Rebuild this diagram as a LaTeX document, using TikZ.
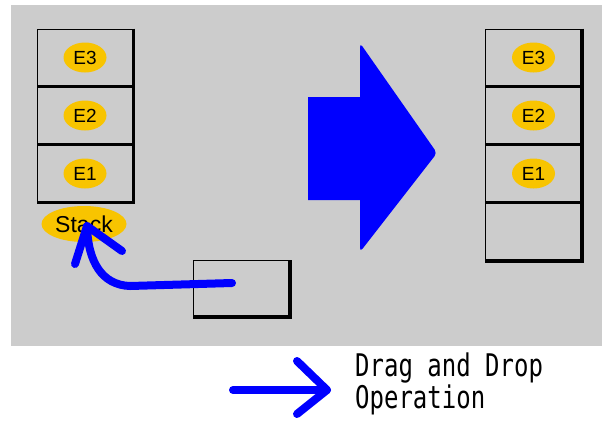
\documentclass[tikz,border=0pt]{standalone}
\usepackage{fontspec}
\setmainfont{Liberation Sans}
\newfontfamily\pixmono{DejaVu Sans Mono}
\definecolor{bggray}{HTML}{CCCCCC}
\definecolor{tagyellow}{HTML}{F8C400}
\definecolor{dragblue}{HTML}{0000FF}
\begin{document}
\begin{tikzpicture}[x=1pt,y=-1pt,
  slot/.style={draw=black,line width=1pt,minimum width=96pt,minimum height=57pt,inner sep=0pt},
  tag/.style={fill=tagyellow,ellipse,minimum width=43pt,minimum height=30pt,inner sep=0pt,font=\fontsize{19}{19}\selectfont},
  stroke/.style={draw=dragblue,line width=8pt,line cap=round,line join=round}]
\usetikzlibrary{shapes.geometric}
\useasboundingbox (0,0) rectangle (604,421);
\fill[white] (0,0) rectangle (604,421);
\fill[bggray] (11,5) rectangle (602,346);
% left stack
\foreach \n/\y in {3/57.5,2/115.5,1/173.5}{
  \node[slot] (L\n) at (85,\y) {};
  \draw[line width=3.5pt] (L\n.north east) -- (L\n.south east) -- (L\n.south west);
  \node[tag] (LE\n) at (L\n.center) {E\n};
}
\node[tag,minimum width=85pt,minimum height=36pt,font=\fontsize{23}{23}\selectfont] (stack) at (84,224) {Stack};
% small dragged rect
\node[draw=black,line width=1pt,minimum width=96pt,minimum height=56pt,inner sep=0pt] (drag) at (241.5,288.5) {};
\draw[line width=3.5pt] (drag.north east) -- (drag.south east) -- (drag.south west);
% curved drag arrow
\coordinate (s) at (232,283);
\coordinate (tip) at (87,226);
\draw[stroke] (s) -- (130,286) .. controls (102,285) and (88,262) .. (tip);
\draw[stroke] (75,264) -- (tip) -- (122,251);
% big arrow
\fill[dragblue] (308,97) -- (360,97) [rounded corners=4pt] -- (360,43) -- (437,153) -- (360,252) [sharp corners] -- (360,200) -- (308,200) -- cycle;
% right stack
\foreach \n/\y in {3/57.5,2/115.5,1/173.5,0/232}{
  \node[slot] (R\n) at (533.5,\y) {};
  \draw[line width=3.5pt] (R\n.north east) -- (R\n.south east) -- (R\n.south west);
}
\foreach \n in {3,2,1}{\node[tag] (RE\n) at (R\n.center) {E\n};}
% legend
\coordinate (la) at (233,390);
\coordinate (lb) at (327,390);
\draw[stroke] (la) -- (lb);
\draw[stroke] (297,361) -- (lb) -- (297,414);
\node[anchor=west,align=left,inner sep=0pt,yscale=1.3,transform shape,font=\pixmono\fontsize{24}{21}\selectfont] (legend) at (355,384) {Drag and Drop\\Operation};
\end{tikzpicture}
\end{document}
